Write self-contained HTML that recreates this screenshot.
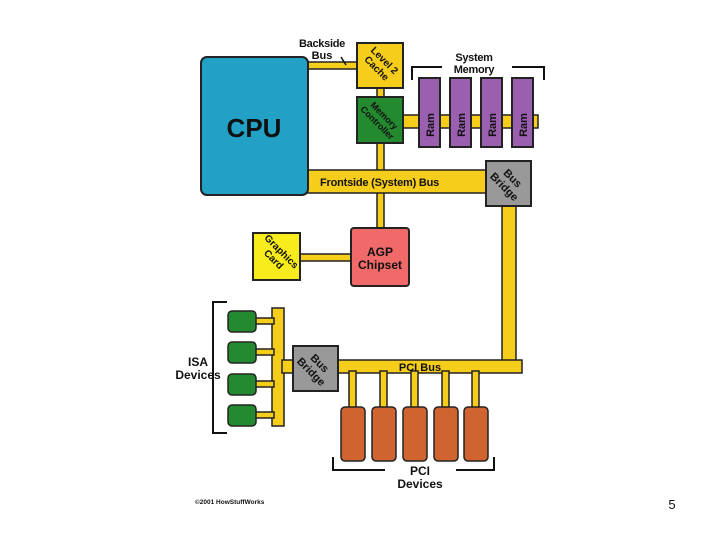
<html><body style="margin:0;width:720px;height:540px;background:#fff;position:relative;font-family:'Liberation Sans',sans-serif;overflow:hidden">
<svg width="720" height="540" style="position:absolute;left:0;top:0" font-family="Liberation Sans, sans-serif" font-weight="bold">
<g fill="#f7cd1c" stroke="#222" stroke-width="1.5">
<rect x="300" y="62" width="60" height="7"/>
<rect x="377" y="86" width="7" height="14"/>
<rect x="377" y="141" width="7" height="92"/>
<rect x="400" y="115" width="138" height="13"/>
<rect x="304" y="170" width="186" height="23"/>
<rect x="502" y="204" width="14" height="160"/>
<rect x="330" y="360" width="192" height="13"/>
<rect x="297" y="254" width="56" height="7"/>
<rect x="272" y="308" width="12" height="118"/>
<rect x="282" y="360" width="13" height="13"/>
<rect x="254" y="318" width="20" height="6"/><rect x="254" y="349" width="20" height="6"/>
<rect x="254" y="381" width="20" height="6"/><rect x="254" y="412" width="20" height="6"/>
<rect x="349" y="371" width="7" height="38"/><rect x="380" y="371" width="7" height="38"/>
<rect x="411" y="371" width="7" height="38"/><rect x="442" y="371" width="7" height="38"/>
<rect x="472" y="371" width="7" height="38"/>
</g>
<rect x="201" y="57" width="107" height="138" rx="6" fill="#22a0c6" stroke="#222" stroke-width="2"/>
<text x="254" y="137" font-size="26" text-anchor="middle" fill="#111">CPU</text>
<rect x="357" y="43" width="46" height="45" fill="#f7cd1c" stroke="#222" stroke-width="2"/>
<text transform="translate(380,65) rotate(45)" font-size="10" text-anchor="middle" fill="#111"><tspan x="0" y="-3">Level 2</tspan><tspan x="0" y="8">Cache</tspan></text>
<rect x="357" y="97" width="46" height="46" fill="#238a30" stroke="#222" stroke-width="2"/>
<text transform="translate(380,120) rotate(45)" font-size="9" text-anchor="middle" fill="#111"><tspan x="0" y="-3">Memory</tspan><tspan x="0" y="7">Controller</tspan></text>
<g fill="#9b5fb0" stroke="#222" stroke-width="2">
<rect x="419" y="78" width="21" height="69"/><rect x="450" y="78" width="21" height="69"/>
<rect x="481" y="78" width="21" height="69"/><rect x="512" y="78" width="21" height="69"/></g>
<g font-size="11" fill="#111">
<text transform="translate(434,125) rotate(-90)" text-anchor="middle">Ram</text>
<text transform="translate(465,125) rotate(-90)" text-anchor="middle">Ram</text>
<text transform="translate(496,125) rotate(-90)" text-anchor="middle">Ram</text>
<text transform="translate(527,125) rotate(-90)" text-anchor="middle">Ram</text></g>
<path d="M412,80 V67 H442 M512,67 H544 V80" fill="none" stroke="#111" stroke-width="2"/>
<text x="474" y="61" font-size="11" text-anchor="middle" fill="#111" letter-spacing="-0.3">System</text>
<text x="474" y="73" font-size="11" text-anchor="middle" fill="#111" letter-spacing="-0.3">Memory</text>
<text x="322" y="47" font-size="11" text-anchor="middle" fill="#111" letter-spacing="-0.3">Backside</text>
<text x="322" y="59" font-size="11" text-anchor="middle" fill="#111">Bus</text>
<line x1="341" y1="57" x2="346" y2="65" stroke="#111" stroke-width="1.5"/>
<text x="320" y="186" font-size="11" fill="#111" letter-spacing="-0.2">Frontside (System) Bus</text>
<rect x="486" y="161" width="45" height="45" fill="#999" stroke="#222" stroke-width="2"/>
<text transform="translate(508,183) rotate(45)" font-size="11" text-anchor="middle" fill="#111"><tspan x="0" y="-3">Bus</tspan><tspan x="0" y="9">Bridge</tspan></text>
<rect x="351" y="228" width="58" height="58" rx="3" fill="#f06a6a" stroke="#222" stroke-width="2"/>
<text x="380" y="256" font-size="12" text-anchor="middle" fill="#111">AGP</text>
<text x="380" y="269" font-size="12" text-anchor="middle" fill="#111">Chipset</text>
<rect x="253" y="233" width="47" height="47" fill="#f8ec1c" stroke="#222" stroke-width="2"/>
<text transform="translate(277,256) rotate(45)" font-size="10" text-anchor="middle" fill="#111"><tspan x="0" y="-3">Graphics</tspan><tspan x="0" y="8">Card</tspan></text>
<g fill="#238a30" stroke="#222" stroke-width="1.5">
<rect x="228" y="311" width="28" height="21" rx="4"/><rect x="228" y="342" width="28" height="21" rx="4"/>
<rect x="228" y="374" width="28" height="21" rx="4"/><rect x="228" y="405" width="28" height="21" rx="4"/></g>
<path d="M227,302 H213 V433 H227" fill="none" stroke="#111" stroke-width="2"/>
<text x="198" y="366" font-size="12" text-anchor="middle" fill="#111">ISA</text>
<text x="198" y="379" font-size="12" text-anchor="middle" fill="#111">Devices</text>
<rect x="293" y="346" width="45" height="45" fill="#999" stroke="#222" stroke-width="2"/>
<text transform="translate(315,368) rotate(45)" font-size="11" text-anchor="middle" fill="#111"><tspan x="0" y="-3">Bus</tspan><tspan x="0" y="9">Bridge</tspan></text>
<text x="420" y="371" font-size="11" text-anchor="middle" fill="#111">PCI Bus</text>
<g fill="#d06430" stroke="#222" stroke-width="1.5">
<rect x="341" y="407" width="24" height="54" rx="4"/><rect x="372" y="407" width="24" height="54" rx="4"/>
<rect x="403" y="407" width="24" height="54" rx="4"/><rect x="434" y="407" width="24" height="54" rx="4"/>
<rect x="464" y="407" width="24" height="54" rx="4"/></g>
<path d="M333,457 V470 H385 M456,470 H494 V457" fill="none" stroke="#111" stroke-width="2"/>
<text x="420" y="475" font-size="12" text-anchor="middle" fill="#111">PCI</text>
<text x="420" y="488" font-size="12" text-anchor="middle" fill="#111">Devices</text>
<text x="195" y="504" font-size="6.5" fill="#111">©2001 HowStuffWorks</text>
<text x="672" y="509" font-size="13" font-weight="normal" text-anchor="middle" fill="#111">5</text>
</svg>
</body></html>
